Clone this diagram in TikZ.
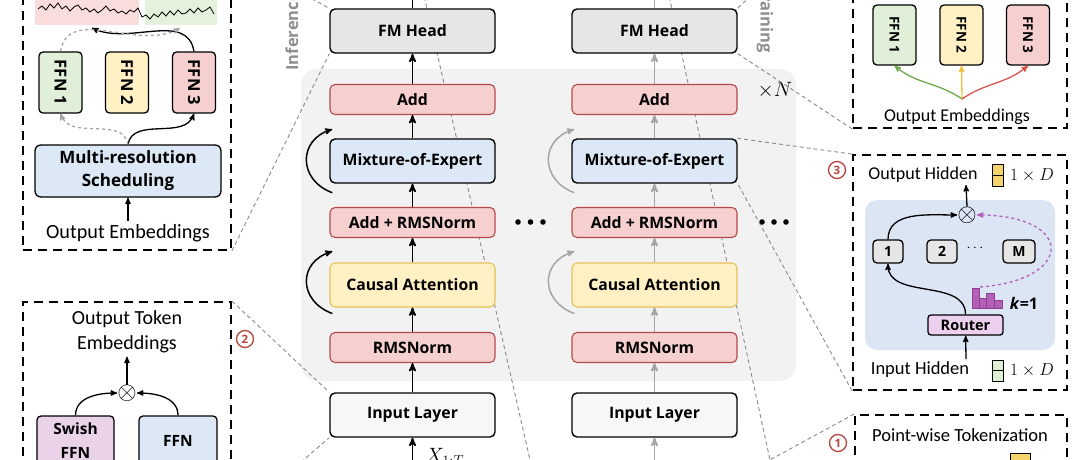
\documentclass[tikz,border=0pt]{standalone}
\usepackage{fontspec}
\setmainfont{Carlito}
\setsansfont{Open Sans}
\usepackage{graphicx}
\usetikzlibrary{arrows}

\definecolor{pinkfill}{HTML}{F6CFCF}
\definecolor{pinkline}{HTML}{B54A4A}
\definecolor{bluefill}{HTML}{DDE8F6}
\definecolor{yellowfill}{HTML}{FFF1C4}
\definecolor{yellowline}{HTML}{E5C158}
\definecolor{grayfill}{HTML}{E6E6E6}
\definecolor{inputfill}{HTML}{F7F7F7}
\definecolor{greenfill}{HTML}{E1EFD8}
\definecolor{purplefill}{HTML}{EAD3E9}
\definecolor{arrowgray}{HTML}{A5A5A5}
\definecolor{dashgray}{HTML}{8A8A8A}
\definecolor{labelgray}{HTML}{8E8E8E}
\definecolor{circred}{HTML}{B5443F}
\definecolor{moebg}{HTML}{DCE5F3}
\definecolor{barpurple}{HTML}{B45FB6}
\definecolor{barline}{HTML}{8E3D90}
\definecolor{routerfill}{HTML}{EDD0EE}
\definecolor{ffngreen}{HTML}{70A84A}
\definecolor{ffnyellow}{HTML}{F2BE3A}
\definecolor{ffnred}{HTML}{D9534F}
\definecolor{iconyellow}{HTML}{F4D36B}
\definecolor{icongreen}{HTML}{DCEFD2}
\definecolor{chartpink}{HTML}{F9DCDC}
\definecolor{chartgreen}{HTML}{E4F1DD}

\begin{document}
\begin{tikzpicture}[x=1pt,y=1pt,>=stealth',
  layer box/.style={rectangle,rounded corners=5pt,draw,line width=1.4pt,
    font=\sffamily\bfseries\fontsize{15.8}{17}\selectfont,
    minimum width=165pt,minimum height=44pt,inner sep=2pt},
  norm box/.style={layer box,minimum height=30pt,fill=pinkfill,draw=pinkline,line width=1.1pt},
  attn box/.style={layer box,fill=yellowfill,draw=yellowline,line width=1.1pt},
  small box/.style={rectangle,rounded corners=4pt,draw,line width=1.3pt,
    font=\sffamily\bfseries\fontsize{15.5}{17}\selectfont,inner sep=1pt},
  expert box/.style={small box,fill=grayfill,minimum height=23pt,
    font=\sffamily\bfseries\fontsize{14}{15}\selectfont},
  ffn box/.style={small box,minimum width=43pt,minimum height=61pt,
    font=\sffamily\bfseries\fontsize{16.5}{17}\selectfont},
  panel/.style={rectangle,draw,dash pattern=on 9pt off 6pt,line width=1.8pt,inner sep=0pt},
  zoom line/.style={dashgray,dash pattern=on 4pt off 3pt,line width=0.9pt},
  numcirc/.style={circle,draw=circred,line width=1.3pt,text=circred,
    font=\sffamily\bfseries\fontsize{11.5}{12}\selectfont,minimum size=17pt,inner sep=0pt},
  flow/.style={->,line width=1.8pt},
  thin flow/.style={->,line width=1.3pt}]

  \useasboundingbox (0,0) rectangle (1080,-460);

  % stacked block behind the columns
  \node[fill=black!5,rounded corners=16pt,minimum width=495pt,minimum height=312pt] (stack) at (548.5,-225) {};
  \coordinate (infTop) at (422.7,10);
  \coordinate (infBot) at (532.3,-470);
  \coordinate (trTop) at (667.8,10);
  \coordinate (trBot) at (772.2,-470);
  \draw[zoom line] (infTop) -- (infBot);
  \draw[zoom line] (trTop) -- (trBot);

  \node[rotate=90,anchor=west,text=labelgray,font=\sffamily\bfseries\fontsize{16.5}{17}\selectfont] (infLabel) at (292,-74) {Inference};
  \node[rotate=-90,anchor=east,text=labelgray,font=\sffamily\bfseries\fontsize{16.5}{17}\selectfont] (trLabel) at (765,-56) {Training};
  \node[font=\fontsize{20}{20}\selectfont] (xN) at (775,-90) {$\times N$};

  % inference column
  \node[layer box,fill=grayfill] (fmL) at (412.5,-31) {FM Head};
  \node[norm box] (addL) at (412.5,-99.5) {Add};
  \node[layer box,fill=bluefill] (moeL) at (412.5,-161) {Mixture-of-Expert};
  \node[norm box] (anL) at (412.5,-222.5) {Add + RMSNorm};
  \node[attn box] (attL) at (412.5,-285) {Causal Attention};
  \node[norm box] (rmsL) at (412.5,-347.5) {RMSNorm};
  \node[layer box,fill=inputfill] (inL) at (412.5,-415) {Input Layer};
  \coordinate (xinL) at (412.5,-475);
  \node[anchor=north west,font=\fontsize{20}{20}\selectfont] (xLabel) at (422,-445) {$X_{1:T}$};

  % training column
  \node[layer box,fill=grayfill] (fmR) at (654.5,-31) {FM Head};
  \node[norm box] (addR) at (654.5,-99.5) {Add};
  \node[layer box,fill=bluefill] (moeR) at (654.5,-161) {Mixture-of-Expert};
  \node[norm box] (anR) at (654.5,-222.5) {Add + RMSNorm};
  \node[attn box] (attR) at (654.5,-285) {Causal Attention};
  \node[norm box] (rmsR) at (654.5,-347.5) {RMSNorm};
  \node[layer box,fill=inputfill] (inR) at (654.5,-415) {Input Layer};
  \coordinate (xinR) at (654.5,-475);

  \path[flow]
    (xinL) edge (inL)
    (inL) edge (rmsL)
    (rmsL) edge (attL)
    (attL) edge (anL)
    (anL) edge (moeL)
    (moeL) edge (addL)
    (addL) edge (fmL);
  \draw[line width=1.8pt] (fmL.north) -- ++(0,15);
  \draw[->,line width=1.5pt] ([xshift=3pt,yshift=-9pt]moeL.south west) .. controls (298,-180) and (298,-140) .. ([xshift=3pt,yshift=9pt]moeL.north west);
  \draw[->,line width=1.5pt] ([xshift=3pt,yshift=-6pt]attL.south west) .. controls (298,-301) and (298,-262) .. ([xshift=3pt,yshift=11pt]attL.north west);

  \path[flow,arrowgray]
    (xinR) edge (inR)
    (inR) edge (rmsR)
    (rmsR) edge (attR)
    (attR) edge (anR)
    (anR) edge (moeR)
    (moeR) edge (addR)
    (addR) edge (fmR);
  \draw[line width=1.8pt,arrowgray] (fmR.north) -- ++(0,15);
  \draw[->,line width=1.5pt,arrowgray] ([xshift=3pt,yshift=-9pt]moeR.south west) .. controls (540,-180) and (540,-140) .. ([xshift=3pt,yshift=9pt]moeR.north west);
  \draw[->,line width=1.5pt,arrowgray] ([xshift=3pt,yshift=-6pt]attR.south west) .. controls (540,-301) and (540,-262) .. ([xshift=3pt,yshift=11pt]attR.north west);

  \fill (518,-222) circle (2.8);
  \fill (530.5,-222) circle (2.8);
  \fill (543,-222) circle (2.8);
  \fill (762,-222) circle (2.8);
  \fill (774,-222) circle (2.8);
  \fill (786,-222) circle (2.8);

  % multi-resolution panel
  \node[panel,minimum width=208pt,minimum height=294pt] (schedPanel) at (127,-103) {};
  \fill[chartpink] (35,10) rectangle (139,-25);
  \fill[chartgreen] (145,10) rectangle (217,-25);
  \draw[line width=0.8pt] plot coordinates {(38,-9) (42,-6) (46,-10) (50,-4) (54,-8) (58,-3) (62,-9) (66,-6)
    (70,-11) (74,-7) (78,-5) (82,-10) (86,-8) (90,-12) (94,-9) (98,-13) (102,-10) (106,-6) (110,-11)
    (114,-9) (118,-13) (122,-11) (126,-14) (130,-10) (134,-12) (138,-8) (142,-17) (146,-15) (150,-19)
    (154,-14) (158,-17) (162,-12) (166,-16) (170,-11) (174,-15) (178,-10) (182,-14) (186,-13) (190,-9)
    (194,-13) (198,-8) (202,-12) (206,-10) (210,-7) (214,-14)};
  \node[ffn box,fill=greenfill] (ffnA) at (60.5,-82.5) {\rotatebox{-90}{FFN 1}};
  \node[ffn box,fill=yellowfill] (ffnB) at (127,-82.5) {\rotatebox{-90}{FFN 2}};
  \node[ffn box,fill=pinkfill] (ffnC) at (194,-82.5) {\rotatebox{-90}{FFN 3}};
  \node[small box,fill=bluefill,rounded corners=6pt,minimum width=186pt,minimum height=52pt,align=center,
    font=\sffamily\bfseries\fontsize{17}{23}\selectfont] (sched) at (128,-171) {Multi-resolution\\Scheduling};
  \node[font=\fontsize{20.2}{21}\selectfont] (schedIn) at (128,-233) {Output Embeddings};
  \coordinate (chartA) at (92,-28);
  \coordinate (chartB) at (180,-28);
  \draw[thin flow] (schedIn) -- (sched);
  \draw[thin flow] (sched.north) to[out=80,in=-110] (ffnC.south);
  \draw[thin flow,dashed,arrowgray] (sched.north) to[out=100,in=-70] (ffnA.south);
  \draw[thin flow] (ffnC.north) to[out=100,in=-25] (chartA);
  \draw[thin flow,dashed,arrowgray] (ffnA.north) to[out=80,in=210] (chartB);

  % token embedding panel
  \node[panel,minimum width=208pt,minimum height=219pt] (embPanel) at (127,-411.5) {};
  \node[font=\fontsize{20}{25}\selectfont,align=center] (tokText) at (127,-332) {Output Token\\Embeddings};
  \node[font=\fontsize{26}{26}\selectfont,inner sep=0pt] (mulE) at (127,-393) {$\otimes$};
  \node[small box,fill=purplefill,minimum width=77pt,minimum height=50pt,align=center,
    font=\sffamily\bfseries\fontsize{15.5}{24}\selectfont] (swish) at (75.5,-441) {Swish\\FFN};
  \node[small box,fill=bluefill,minimum width=78pt,minimum height=50pt] (ffnE) at (178,-441) {FFN};
  \draw[thin flow] (mulE) -- (tokText);
  \draw[thin flow] (swish.north) to[out=90,in=180] (mulE.west);
  \draw[thin flow] (ffnE.north) to[out=90,in=0] (mulE.east);

  % output head panel
  \node[panel,minimum width=214pt,minimum height=228pt] (headPanel) at (960,-14) {};
  \node[ffn box,fill=greenfill,minimum height=60pt,font=\sffamily\bfseries\fontsize{13.5}{14}\selectfont] (hA) at (894.5,-35) {\rotatebox{-90}{FFN 1}};
  \node[ffn box,fill=yellowfill,minimum height=60pt,font=\sffamily\bfseries\fontsize{13.5}{14}\selectfont] (hB) at (961.5,-35) {\rotatebox{-90}{FFN 2}};
  \node[ffn box,fill=pinkfill,minimum height=60pt,font=\sffamily\bfseries\fontsize{13.5}{14}\selectfont] (hC) at (1028,-35) {\rotatebox{-90}{FFN 3}};
  \node[font=\fontsize{18}{19}\selectfont] (headIn) at (957,-117) {Output Embeddings};
  \coordinate (headRoot) at (962,-99);
  \draw[thin flow,ffngreen] (headRoot) to[out=145,in=-40] (hA.south);
  \draw[thin flow,ffnyellow] (headRoot) -- (hB.south);
  \draw[thin flow,ffnred] (headRoot) to[out=35,in=220] (hC.south);

  % mixture-of-expert panel
  \node[panel,minimum width=214pt,minimum height=235pt] (moePanel) at (960,-272.5) {};
  \node[fill=moebg,rounded corners=12pt,minimum width=190pt,minimum height=150pt] (moeBg) at (960,-275) {};
  \node[font=\fontsize{18}{19}\selectfont] (outH) at (923,-175) {Output Hidden};
  \draw[fill=iconyellow,line width=0.9pt] (992,-164) rectangle (1003,-186);
  \draw[line width=0.9pt] (992,-175) -- (1003,-175);
  \node[font=\fontsize{16}{16}\selectfont] (outDim) at (1032,-175) {$1\times D$};
  \node[font=\fontsize{26}{26}\selectfont,inner sep=0pt] (mulM) at (967,-215) {$\otimes$};
  \node[expert box,minimum width=30pt] (e1) at (888,-251.5) {1};
  \node[expert box,minimum width=30pt] (e2) at (942,-251.5) {2};
  \node[font=\fontsize{14}{14}\selectfont] (eDots) at (975,-248) {$\cdots$};
  \node[expert box,minimum width=32pt] (eM) at (1019,-251.5) {M};
  \node[small box,fill=routerfill,rounded corners=3pt,minimum width=75pt,minimum height=20pt,
    font=\sffamily\bfseries\fontsize{14.5}{15}\selectfont] (router) at (965.5,-325) {Router};
  \filldraw[fill=barpurple,draw=barline,line width=0.7pt] (972,-308) rectangle (979,-288);
  \filldraw[fill=barpurple,draw=barline,line width=0.7pt] (979,-308) rectangle (986,-298);
  \filldraw[fill=barpurple,draw=barline,line width=0.7pt] (986,-308) rectangle (994,-293);
  \filldraw[fill=barpurple,draw=barline,line width=0.7pt] (994,-308) rectangle (1002,-300);
  \coordinate (barTop) at (980,-287);
  \node[font=\sffamily\bfseries\fontsize{16}{16}\selectfont] (kLabel) at (1024,-303) {\textit{k}=1};
  \node[font=\fontsize{18.5}{19}\selectfont] (inH) at (920,-370) {Input Hidden};
  \draw[fill=icongreen,line width=0.9pt] (992,-360) rectangle (1003,-381);
  \draw[line width=0.9pt] (992,-370.5) -- (1003,-370.5);
  \node[font=\fontsize{16}{16}\selectfont] (inDim) at (1032,-370) {$1\times D$};
  \coordinate (inHArrow) at (966,-359);
  \draw[thin flow] (inHArrow) -- (router);
  \draw[thin flow] (router.north) to[out=90,in=-90] (e1.south);
  \draw[thin flow] (e1.north) to[out=90,in=180] (mulM.west);
  \draw[thin flow] (mulM.north) -- (966,-185);
  \draw[thin flow,dashed,barpurple] (barTop) .. controls (1075,-280) and (1075,-215) .. (mulM.east);

  % tokenization panel
  \node[panel,minimum width=212pt,minimum height=145pt] (tokPanel) at (961,-487.5) {};
  \node[font=\fontsize{18.5}{19}\selectfont] (tokTitle) at (960,-435) {Point-wise Tokenization};
  \draw[fill=iconyellow,line width=0.9pt] (1010,-453) rectangle (1030,-475);

  \node[numcirc] (c1) at (838,-443) {1};
  \node[numcirc] (c2) at (245,-339) {2};
  \node[numcirc] (c3) at (837,-170) {3};

  % zoom connectors
  \coordinate (tokSrc) at (700,-498);
  \draw[zoom line] (schedPanel.south east) -- (fmL.south west);
  \draw[zoom line] (schedPanel.north east) -- (fmL.north west);
  \draw[zoom line] (embPanel.north east) -- (inL.north west);
  \draw[zoom line] (embPanel.south east) -- (inL.south west);
  \draw[zoom line] (headPanel.south west) -- (fmR.south east);
  \draw[zoom line] (headPanel.north west) -- (fmR.north east);
  \draw[zoom line] (moePanel.north west) -- (moeR.north east);
  \draw[zoom line] (moePanel.south west) -- (moeR.south east);
  \draw[zoom line] (tokPanel.north west) -- (tokSrc);
\end{tikzpicture}
\end{document}
